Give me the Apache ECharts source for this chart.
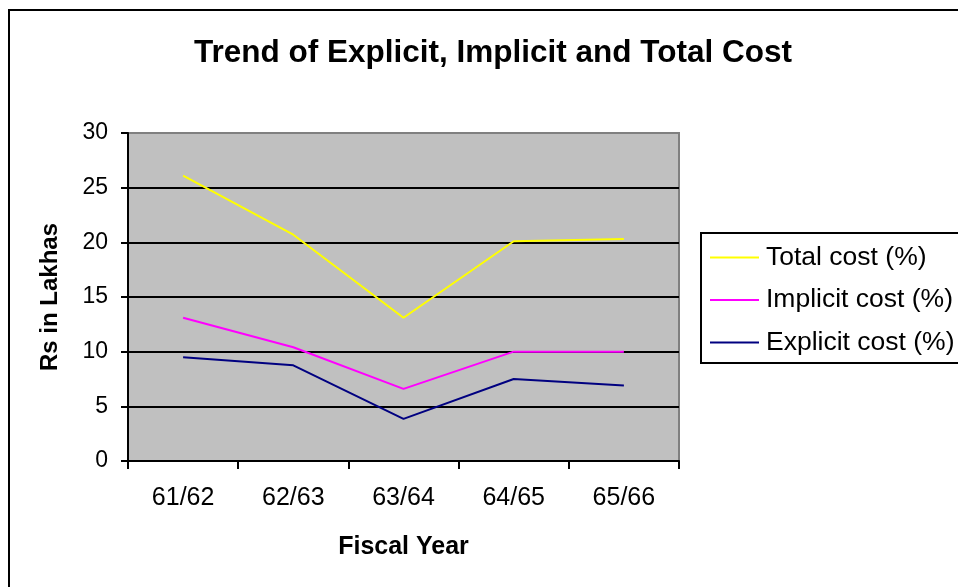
<!DOCTYPE html>
<html>
<head>
<meta charset="utf-8">
<script src="https://cdn.jsdelivr.net/npm/echarts@6/dist/echarts.min.js"></script>
<style>
  html, body { margin: 0; padding: 0; background: #ffffff; }
  #chart { width: 958px; height: 587px; }
</style>
</head>
<body>
<div id="chart"></div>
<script>
// Fiscal years on the category axis
const fiscalYears = ['61/62', '62/63', '63/64', '64/65', '65/66'];

// Cost shares per year (%)
const totalCost = [26.1, 20.7, 13.1, 20.1, 20.3];
const implicitCost = [13.1, 10.4, 6.6, 10.0, 10.0];
const explicitCost = [9.5, 8.75, 3.85, 7.5, 6.9];

// Value axis range
const yMin = 0;
const yMax = 30;
const yStep = 5;

const FONT = '"Liberation Sans", Arial, sans-serif';

const chart = echarts.init(document.getElementById('chart'), null, { renderer: 'canvas' });

// Horizontal gridlines are black; the top one doubles as the grey plot border
const gridLineColors = [];
for (let v = yMin; v <= yMax; v += yStep) {
  gridLineColors.push(v === yMax ? '#808080' : '#000000');
}

function lineSeries(name, data, color) {
  return {
    name: name,
    type: 'line',
    data: data,
    symbol: 'none',
    smooth: false,
    lineStyle: { color: color, width: 2 },
    itemStyle: { color: color },
    z: 3
  };
}

chart.setOption({
  animation: false,
  backgroundColor: '#ffffff',
  title: {
    text: 'Trend of Explicit, Implicit and Total Cost',
    left: 493,
    top: 37,
    textAlign: 'center',
    padding: 0,
    textStyle: { fontFamily: FONT, fontSize: 31.5, fontWeight: 'bold', color: '#000000' }
  },
  graphic: [{
    type: 'rect',
    shape: { x: 9, y: 10, width: 960, height: 600 },
    style: { fill: 'none', stroke: '#000000', lineWidth: 2 },
    silent: true,
    z: -10
  }],
  legend: {
    orient: 'vertical',
    left: 701,
    top: 233,
    // plain line sample, no marker
    icon: 'path://M0,0 L49,0 L49,2 L0,2 Z',
    itemWidth: 49,
    itemHeight: 2,
    itemGap: 15.5,
    padding: [11, 60, 7, 9],
    borderColor: '#000000',
    borderWidth: 2,
    backgroundColor: '#ffffff',
    textStyle: { fontFamily: FONT, fontSize: 26.5, color: '#000000', padding: [0, 0, 0, 2] },
    data: ['Total cost (%)', 'Implicit cost (%)', 'Explicit cost (%)']
  },
  grid: {
    left: 128,
    top: 133,
    right: 279,
    bottom: 126,
    containLabel: false,
    outerBoundsMode: 'none',
    show: true,
    backgroundColor: '#c0c0c0',
    borderColor: '#808080',
    borderWidth: 2
  },
  xAxis: {
    type: 'category',
    data: fiscalYears,
    boundaryGap: true,
    name: 'Fiscal Year',
    nameLocation: 'middle',
    nameGap: 74,
    nameTextStyle: { fontFamily: FONT, fontSize: 25, fontWeight: 'bold', color: '#000000' },
    axisLine: { show: true, lineStyle: { color: '#000000', width: 2 } },
    axisTick: { show: true, length: 8, lineStyle: { color: '#000000', width: 2 } },
    axisLabel: { fontFamily: FONT, fontSize: 25, color: '#000000', margin: 25 },
    splitLine: { show: false }
  },
  yAxis: {
    type: 'value',
    min: yMin,
    max: yMax,
    interval: yStep,
    name: 'Rs in Lakhas',
    nameLocation: 'middle',
    nameGap: 66,
    nameRotate: 90,
    nameTextStyle: { fontFamily: FONT, fontSize: 24, fontWeight: 'bold', color: '#000000' },
    axisLine: { show: true, lineStyle: { color: '#000000', width: 2 } },
    axisTick: { show: true, length: 7, lineStyle: { color: '#000000', width: 2 } },
    axisLabel: { fontFamily: FONT, fontSize: 23, color: '#000000', margin: 20 },
    splitLine: { show: true, lineStyle: { color: gridLineColors, width: 2 } }
  },
  series: [
    lineSeries('Total cost (%)', totalCost, '#ffff00'),
    lineSeries('Implicit cost (%)', implicitCost, '#ff00ff'),
    lineSeries('Explicit cost (%)', explicitCost, '#000080')
  ]
});
</script>
</body>
</html>
